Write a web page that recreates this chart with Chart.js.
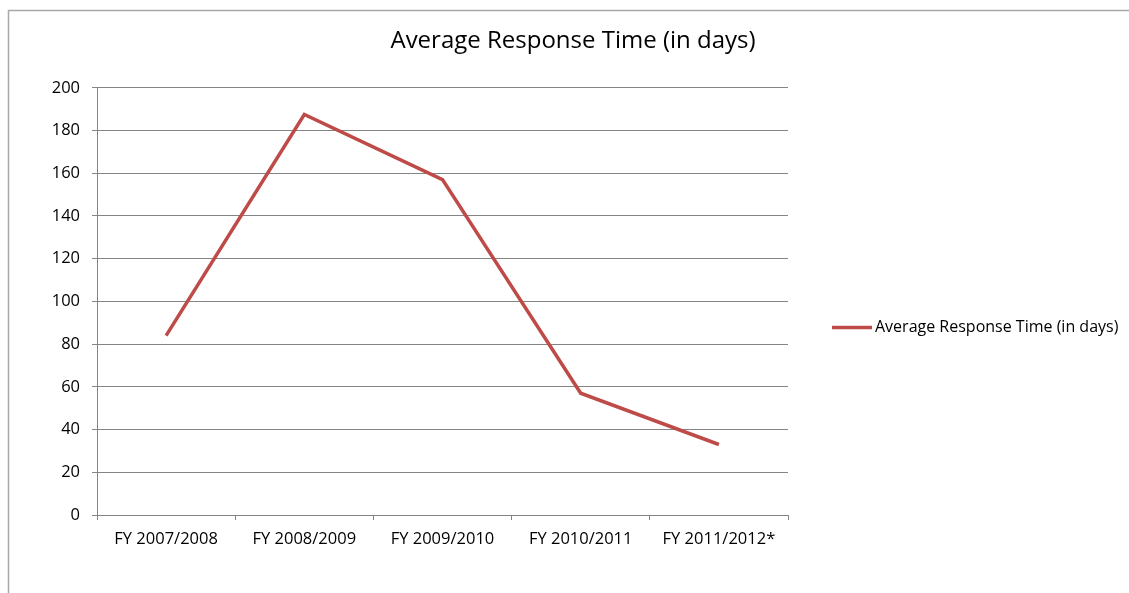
<!DOCTYPE html>
<html>
<head>
<meta charset="utf-8">
<script src="https://cdn.jsdelivr.net/npm/chart.js@4"></script>
<style>
  html, body { margin: 0; padding: 0; background: #fff; }
  #wrap { width: 1129px; height: 593px; }
</style>
</head>
<body>
<div id="wrap"><canvas id="responseChart"></canvas></div>
<script>
// values
const years = ['FY 2007/2008', 'FY 2008/2009', 'FY 2009/2010', 'FY 2010/2011', 'FY 2011/2012*'];
const responseDays = [84, 187.5, 157, 57, 33];
const seriesName = 'Average Response Time (in days)';

const lineRed = '#BE4B48';
const axisGrey = '#848484';
const font = 'Open Sans';

// grey frame like the excel chart area
const framePlugin = {
    id: 'frame',
    beforeDraw(chart) {
        const ctx = chart.ctx;
        ctx.save();
        ctx.strokeStyle = '#A8A8A8';
        ctx.lineWidth = 1.5;
        ctx.strokeRect(8.5, 10.5, chart.width + 20, chart.height + 20);
        ctx.restore();
    }
};

// legend to the right of the plot
const sideLegend = {
    id: 'sideLegend',
    afterDraw(chart) {
        const ctx = chart.ctx;
        const area = chart.chartArea;
        const ds = chart.data.datasets[0];
        const x = area.right + 44;
        const y = (area.top + area.bottom) / 2 + 26;
        ctx.save();
        ctx.strokeStyle = ds.borderColor;
        ctx.lineWidth = 3.5;
        ctx.beginPath();
        ctx.moveTo(x, y);
        ctx.lineTo(x + 40, y);
        ctx.stroke();
        ctx.fillStyle = '#000';
        ctx.font = '16px "' + font + '"';
        ctx.textBaseline = 'middle';
        ctx.fillText(ds.label, x + 43, y);
        ctx.restore();
    }
};

new Chart(document.getElementById('responseChart'), {
    type: 'line',
    data: {
        labels: years,
        datasets: [{
            label: seriesName,
            data: responseDays,
            borderColor: lineRed,
            backgroundColor: lineRed,
            borderWidth: 3.5,
            pointRadius: 0,
            tension: 0
        }]
    },
    options: {
        responsive: true,
        maintainAspectRatio: false,
        animation: false,
        layout: { padding: { left: 17, top: 10, right: 0, bottom: 0 } },
        plugins: {
            legend: { display: false },
            tooltip: { enabled: false },
            title: {
                display: true,
                text: 'Average Response Time (in days)',
                color: '#000',
                font: { family: font, size: 24, weight: 'normal' },
                padding: { top: 17, bottom: 32 }
            }
        },
        scales: {
            x: {
                offset: true,
                grid: { offset: true, drawOnChartArea: false, tickLength: 5, color: axisGrey },
                border: { color: axisGrey },
                ticks: { color: '#000', padding: 9, maxRotation: 0, font: { family: font, size: 16.5 } },
                afterFit(s) { s.height = 78; }
            },
            y: {
                min: 0,
                max: 200,
                ticks: { stepSize: 20, color: '#000', padding: 12, font: { family: font, size: 16.5 } },
                grid: { color: axisGrey, tickLength: 5 },
                border: { color: axisGrey },
                afterFit(s) { s.width = 80; }
            },
            // empty right axis keeps room for the legend
            side: {
                position: 'right',
                display: true,
                ticks: { display: false },
                grid: { display: false },
                border: { display: false },
                afterFit(s) { s.width = 341; }
            }
        }
    },
    plugins: [framePlugin, sideLegend]
});
</script>
</body>
</html>
